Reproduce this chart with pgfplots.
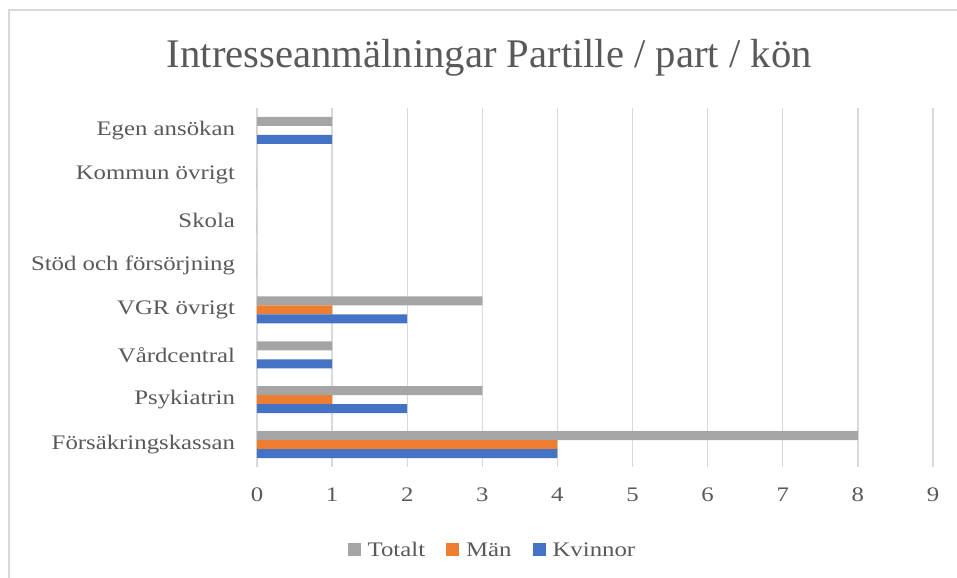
\documentclass[border=0pt]{standalone}
\usepackage{fontspec}
\setmainfont{Liberation Serif}
\newfontfamily\lblfont{Liberation Serif}[FakeStretch=1.2]
\usepackage{pgfplots}
\pgfplotsset{compat=1.18}

\definecolor{txt}{HTML}{595959}
\definecolor{gridc}{HTML}{D9D9D9}
\definecolor{cK}{HTML}{4472C4}
\definecolor{cM}{HTML}{ED7D31}
\definecolor{cT}{HTML}{A5A5A5}

\begin{document}
\begin{tikzpicture}
\path[use as bounding box] (0,0) rectangle (717.75pt,433.5pt);
% chart frame (only left and top visible in the source)
\draw[gridc, line width=1pt] (6.75pt,0) -- (6.75pt,426pt) -- (717.75pt,426pt);
\node[txt, font=\fontsize{30.5}{33}\selectfont] at (367pt,390.5pt) {Intresseanmälningar Partille / part / kön};

\begin{axis}[
  at={(192.75pt,83.25pt)}, anchor=south west,
  scale only axis,
  width=507pt, height=269.25pt,
  xmin=0, xmax=9, ymin=-0.5, ymax=7.5,
  xtick={0,...,9},
  ytick={0,...,7},
  yticklabels={Försäkringskassan,Psykiatrin,Vårdcentral,VGR övrigt,Stöd och försörjning,Skola,Kommun övrigt,Egen ansökan},
  axis line style={draw=none},
  major tick length=0pt,
  xmajorgrids=true,
  grid style={gridc, line width=1pt},
  tick label style={txt, font=\lblfont\fontsize{15.5}{17}\selectfont},
  xticklabel style={yshift=-12pt},
  yticklabel style={xshift=-13pt},
  /pgf/number format/assume math mode=true,
  xbar=0pt,
  bar width=6.75pt,
  legend style={at={(axis description cs:0.349,-0.232)}, anchor=center, draw=none, fill=none,
    legend columns=3, font=\lblfont\fontsize{15.5}{17}\selectfont, text=txt,
    /tikz/every odd column/.append style={column sep=3pt},
    /tikz/every even column/.append style={column sep=14pt}},
  legend cell align=left,
]
\addplot[fill=cT, draw=none, bar shift=6.75pt,
  area legend, legend image code/.code={\fill[cT] (0pt,-4.6pt) rectangle (9.75pt,5.1pt);}]
  coordinates {(8,0) (3,1) (1,2) (3,3) (0,4) (0,5) (0,6) (1,7)};
\addplot[fill=cM, draw=none, bar shift=0pt,
  area legend, legend image code/.code={\fill[cM] (0pt,-4.6pt) rectangle (9.75pt,5.1pt);}]
  coordinates {(4,0) (1,1) (0,2) (1,3) (0,4) (0,5) (0,6) (0,7)};
\addplot[fill=cK, draw=none, bar shift=-6.75pt,
  area legend, legend image code/.code={\fill[cK] (0pt,-4.6pt) rectangle (9.75pt,5.1pt);}]
  coordinates {(4,0) (2,1) (1,2) (2,3) (0,4) (0,5) (0,6) (1,7)};
\legend{Totalt,Män,Kvinnor}
\end{axis}
\end{tikzpicture}
\end{document}
